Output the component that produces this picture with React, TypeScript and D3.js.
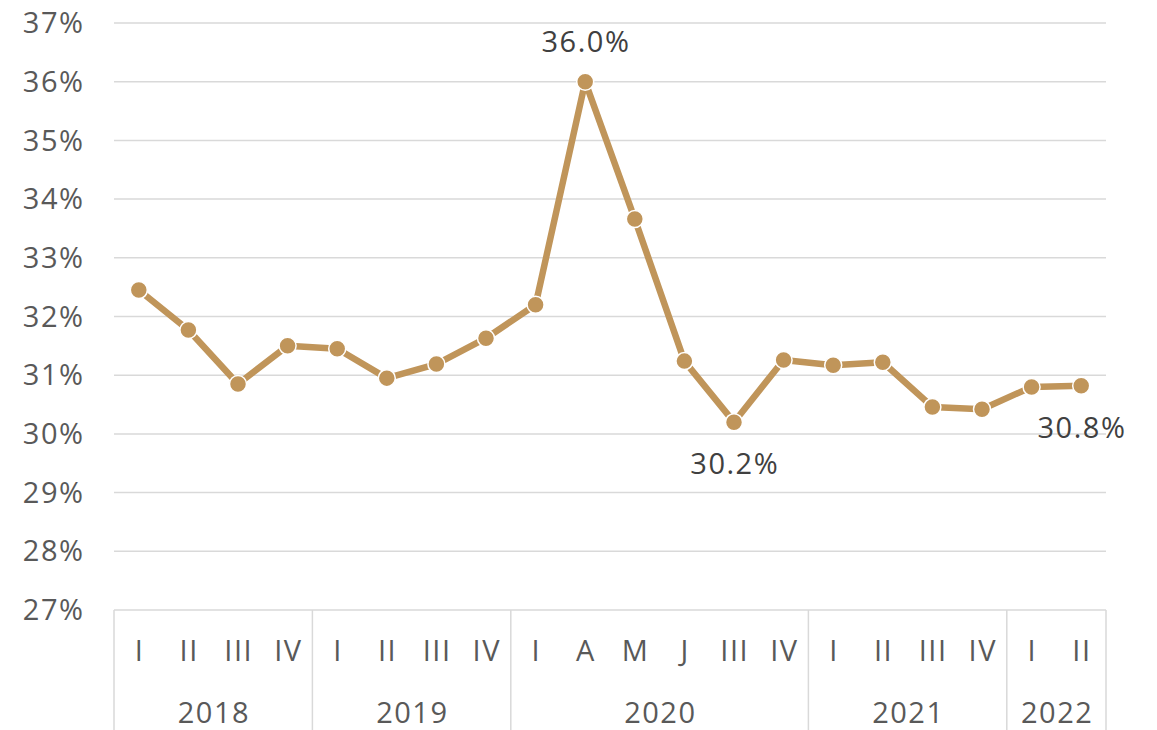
import React, { useEffect, useRef } from "react";
import * as d3 from "d3";

const quarters = ["I", "II", "III", "IV", "I", "II", "III", "IV", "I", "A", "M", "J", "III", "IV", "I", "II", "III", "IV", "I", "II"];
const values = [32.45, 31.77, 30.85, 31.5, 31.45, 30.95, 31.19, 31.63, 32.2, 36.0, 33.66, 31.24, 30.2, 31.26, 31.17, 31.22, 30.46, 30.42, 30.8, 30.82];
const years = ["2018", "2019", "2020", "2021", "2022"];
const yearSizes = [4, 4, 6, 4, 2];
const yTicks = [27, 28, 29, 30, 31, 32, 33, 34, 35, 36, 37];
// which points get a value label, and where
const labelled = [
  { i: 9, pos: "above" },
  { i: 12, pos: "below" },
  { i: 19, pos: "below" },
];

const App = () => {
  const svgRef = useRef<SVGSVGElement>(null);

  useEffect(() => {
    const width = 1157, height = 730;
    const left = 114, right = 1106, top = 23, bottom = 610;
    const font = "'Open Sans', 'Noto Sans', sans-serif";
    const fontSize = 29;
    const spacing = 1.5;
    const lineColor = "#C0955A";
    const gridColor = "#d9d9d9";
    const textColor = "#595959";

    const svg = d3.select(svgRef.current)
      .attr("width", width)
      .attr("height", height)
      .style("background", "#fff");
    svg.selectAll("*").remove();

    const idx = d3.range(values.length).map(String);
    const x = d3.scaleBand().domain(idx).range([left, right]);
    const y = d3.scaleLinear().domain([27, 37]).range([bottom, top]);
    const cx = (i: number) => (x(String(i)) as number) + x.bandwidth() / 2;

    // gridlines
    svg.append("g")
      .selectAll("line")
      .data(yTicks.slice(1))
      .enter().append("line")
      .attr("x1", left)
      .attr("x2", right)
      .attr("y1", d => y(d))
      .attr("y2", d => y(d))
      .attr("stroke", gridColor)
      .attr("stroke-width", 1.5);

    // bottom axis line + group separators
    svg.append("line")
      .attr("x1", left).attr("x2", right)
      .attr("y1", bottom).attr("y2", bottom)
      .attr("stroke", gridColor).attr("stroke-width", 1.5);

    const starts = [0];
    yearSizes.forEach((s, k) => starts.push(starts[k] + s));
    const edgeX = (n: number) => n >= values.length ? right : (x(String(n)) as number);

    svg.append("g")
      .selectAll("line")
      .data(starts)
      .enter().append("line")
      .attr("x1", d => edgeX(d))
      .attr("x2", d => edgeX(d))
      .attr("y1", bottom)
      .attr("y2", height)
      .attr("stroke", gridColor)
      .attr("stroke-width", 1.5);

    // y labels
    svg.append("g")
      .selectAll("text")
      .data(yTicks)
      .enter().append("text")
      .attr("x", 83 + spacing)
      .attr("y", d => y(d))
      .attr("dy", "0.35em")
      .attr("text-anchor", "end")
      .attr("font-family", font)
      .attr("font-size", fontSize)
      .attr("letter-spacing", spacing)
      .attr("fill", textColor)
      .text(d => d + "%");

    // quarter labels
    svg.append("g")
      .selectAll("text")
      .data(quarters)
      .enter().append("text")
      .attr("x", (d, i) => cx(i) + spacing / 2)
      .attr("y", 651)
      .attr("dy", "0.35em")
      .attr("text-anchor", "middle")
      .attr("font-family", font)
      .attr("font-size", fontSize)
      .attr("letter-spacing", spacing)
      .attr("fill", textColor)
      .text(d => d);

    // year labels
    svg.append("g")
      .selectAll("text")
      .data(years)
      .enter().append("text")
      .attr("x", (d, k) => (edgeX(starts[k]) + edgeX(starts[k + 1])) / 2 + spacing / 2)
      .attr("y", 713)
      .attr("dy", "0.35em")
      .attr("text-anchor", "middle")
      .attr("font-family", font)
      .attr("font-size", fontSize)
      .attr("letter-spacing", spacing)
      .attr("fill", textColor)
      .text(d => d);

    // line
    const line = d3.line<number>()
      .x((d, i) => cx(i))
      .y(d => y(d));

    svg.append("path")
      .datum(values)
      .attr("d", line)
      .attr("fill", "none")
      .attr("stroke", lineColor)
      .attr("stroke-width", 6.5)
      .attr("stroke-linejoin", "round");

    svg.append("g")
      .selectAll("circle")
      .data(values)
      .enter().append("circle")
      .attr("cx", (d, i) => cx(i))
      .attr("cy", d => y(d))
      .attr("r", 8.5)
      .attr("fill", lineColor)
      .attr("stroke", "#fff")
      .attr("stroke-width", 1.5);

    // value labels
    svg.append("g")
      .selectAll("text")
      .data(labelled)
      .enter().append("text")
      .attr("x", d => cx(d.i) + spacing / 2)
      .attr("y", d => y(values[d.i]) + (d.pos === "above" ? -40 : 42))
      .attr("dy", "0.35em")
      .attr("text-anchor", "middle")
      .attr("font-family", font)
      .attr("font-size", fontSize)
      .attr("letter-spacing", spacing)
      .attr("fill", "#404040")
      .text(d => values[d.i].toFixed(1) + "%");
  }, []);

  return <svg ref={svgRef} style={{ position: "absolute", left: 0, top: 0 }}></svg>;
};

export default App;
